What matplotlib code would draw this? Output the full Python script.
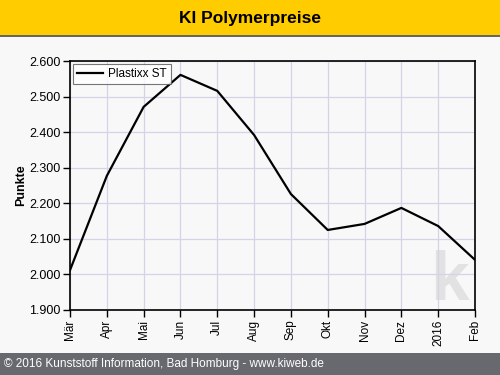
import matplotlib.pyplot as plt
import numpy as np

months = ['Mär', 'Apr', 'Mai', 'Jun', 'Jul', 'Aug', 'Sep', 'Okt', 'Nov', 'Dez', '2016', 'Feb']
values = [2.012, 2.277, 2.471, 2.561, 2.516, 2.392, 2.226, 2.125, 2.142, 2.187, 2.136, 2.041]
series_name = 'Plastixx ST'
yticks = [1.9, 2.0, 2.1, 2.2, 2.3, 2.4, 2.5, 2.6]

W, H = 500, 375
fig = plt.figure(figsize=(W / 100, H / 100), dpi=100)
fig.patch.set_facecolor('#f8f8f8')

# title bar
fig.patches.append(plt.Rectangle((0, 1 - 35 / H), 1, 35 / H, transform=fig.transFigure,
                                 facecolor='#ffcc00', edgecolor='none'))
fig.patches.append(plt.Rectangle((0, 1 - 37 / H), 1, 2 / H, transform=fig.transFigure,
                                 facecolor='#666666', edgecolor='none'))
fig.text(0.5, 1 - 18 / H, 'KI Polymerpreise', ha='center', va='center',
         fontsize=12.5, fontweight='bold', family='Liberation Sans')

# footer
fig.patches.append(plt.Rectangle((0, 0), 1, 22 / H, transform=fig.transFigure,
                                 facecolor='#68696e', edgecolor='none'))
fig.text(4 / W, 11 / H, '© 2016 Kunststoff Information, Bad Homburg - www.kiweb.de',
         ha='left', va='center', fontsize=8.5, color='white', family='Liberation Sans')

ax = fig.add_axes([70 / W, 1 - 310 / H, 405 / W, 249 / H])
ax.set_facecolor('#f8f8f8')
x = np.arange(len(months))
ax.plot(x, values, color='black', lw=1.6, label=series_name)
ax.set_xlim(0, len(months) - 1)
ax.set_ylim(1.9, 2.6)
ax.set_xticks(x)
ax.set_xticklabels(months, rotation=90, fontsize=8.5, family='Liberation Sans')
ax.set_yticks(yticks)
ax.set_yticklabels([f'{v:.3f}' for v in yticks], fontsize=9, family='Liberation Sans')
ax.grid(True, color='#d4d4e8', lw=0.9)
ax.set_axisbelow(True)
for s in ax.spines.values():
    s.set_linewidth(1.2)
ax.tick_params(direction='out', length=5, width=1, pad=2)
ax.set_ylabel('Punkte', fontsize=9, fontweight='bold', family='Liberation Sans', labelpad=1)

# watermark
ax.text(0.938, 0.04, 'k', transform=ax.transAxes, ha='center', va='baseline',
        fontsize=50, fontweight='bold', color='#e2e2e2', family='Liberation Sans', zorder=0)

leg = ax.legend(loc='upper left', frameon=True, fancybox=False,
                borderaxespad=0.25, handlelength=2.2, handletextpad=0.4, borderpad=0.35,
                prop={'family': 'Liberation Sans', 'size': 8.5})
leg.get_frame().set_edgecolor('#555555')
leg.get_frame().set_facecolor('white')
leg.get_frame().set_linewidth(0.8)

fig.savefig('out.png', dpi=100, facecolor=fig.get_facecolor())
